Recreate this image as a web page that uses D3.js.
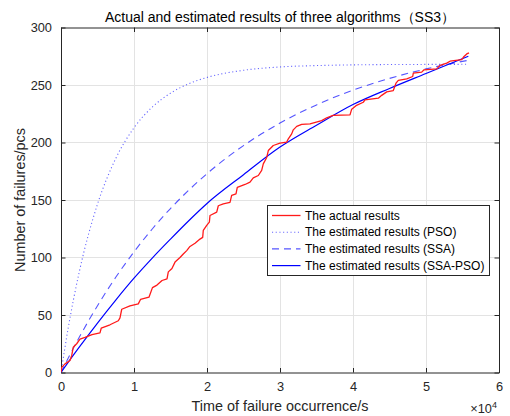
<!DOCTYPE html>
<html>
<head>
<meta charset="utf-8">
<script src="https://cdn.jsdelivr.net/npm/d3@7"></script>
<style>
  html, body { margin: 0; padding: 0; background: #fff; }
  svg { display: block; font-family: "Liberation Sans", Arial, sans-serif; }
</style>
</head>
<body>
<svg id="chart" width="510" height="416"></svg>
<script>
// Observed cumulative failures (time in seconds, count of failures)
const actualTime = [0, 100, 550, 1230, 1470, 1680, 2150, 2600, 3290, 4250, 5340, 5510, 6710, 7850, 8080,
  8320, 9450, 10590, 10890, 12050, 12530, 13150, 13840, 14520, 14700, 15200, 15620, 16300, 16750, 17220,
  17670, 18360, 19040, 19410, 19490, 19960, 20320, 20410, 21330, 21550, 22230, 23150, 23380, 23970, 24150,
  25210, 25890, 26340, 27030, 27490, 27710, 28180, 28400, 29080, 30000, 30920, 31140, 31600, 31820, 32290,
  32970, 34110, 35710, 36400, 37260, 39590, 39820, 40410, 41410, 41640, 43470, 43930, 44620, 45520, 45890,
  46210, 47360, 48180, 48260, 49410, 49730, 51470, 51920, 52840, 53290, 54890, 55210, 55580, 55890];
const actualCount = [0, 4.5, 7.5, 10.4, 14.8, 22, 25, 29, 30.5, 33, 34.5, 38.5, 41.5, 45, 47.5,
  55, 58, 59.7, 63.5, 65.5, 73.8, 76, 80, 81.5, 87.5, 90.5, 96, 100, 103, 106,
  109.6, 112.4, 116, 117.5, 123.5, 128, 130.7, 136.5, 139.4, 145, 146.7, 148, 154, 155.4, 161,
  163.5, 165.6, 169.3, 171.3, 175.7, 181.4, 187, 193, 197.4, 199.4, 200.3, 203.2, 207.5, 211, 214,
  215.7, 216.2, 219, 221.5, 223.5, 224, 229, 232, 235, 237, 238.5, 241, 244, 245.2, 251.6,
  254, 255.4, 257.4, 260.3, 261.2, 263.2, 264, 267, 269, 270.7, 272, 274.8, 277, 278];

// Estimated mean value curves, sampled at the same instants
const modelTime  = [0, 1000, 2500, 5000, 7500, 10000, 12500, 15000, 17500, 20000, 25000, 30000, 35000, 40000, 45000, 50000, 55800];
const psoValues  = [0, 39.2, 87.4, 146.4, 186.1, 212.8, 230.8, 242.9, 251.1, 256.6, 262.8, 265.7, 266.9, 267.5, 267.8, 267.9, 268];
const ssaValues  = [0, 12.7, 30.6, 58.1, 82.8, 104.9, 124.8, 142.6, 158.5, 172.9, 197.3, 216.9, 232.7, 245.5, 255.7, 264, 271.5];
const ssaPsoValues = [0, 9, 22, 43, 63, 82, 99.5, 116, 132, 147, 172, 196, 215, 233, 247, 260, 275];

const xTicks = [0, 10000, 20000, 30000, 40000, 50000, 60000];
const yTicks = [0, 50, 100, 150, 200, 250, 300];

const titleText = "Actual and estimated results of three algorithms\uFF08SS3\uFF09";
const xLabel = "Time of failure occurrence/s";
const yLabel = "Number of failures/pcs";
const legendLabels = ["The actual results", "The estimated results (PSO)", "The estimated results (SSA)", "The estimated results (SSA-PSO)"];

const svg = d3.select("#chart");
const plotLeft = 61, plotRight = 499, plotTop = 27.5, plotBottom = 372.5;
const axisColor = "#262626";

const x = d3.scaleLinear().domain([0, 60000]).range([plotLeft, plotRight]);
const y = d3.scaleLinear().domain([0, 300]).range([plotBottom, plotTop]);

// grid
const grid = svg.append("g");
grid.selectAll("line.gx").data(xTicks.slice(1, -1)).join("line")
  .attr("x1", d => x(d)).attr("x2", d => x(d)).attr("y1", plotTop).attr("y2", plotBottom)
  .attr("stroke", "#e3e3e3").attr("stroke-width", 1).attr("shape-rendering", "crispEdges");
grid.selectAll("line.gy").data(yTicks.slice(1, -1)).join("line")
  .attr("x1", plotLeft).attr("x2", plotRight).attr("y1", d => y(d)).attr("y2", d => y(d))
  .attr("stroke", "#e3e3e3").attr("stroke-width", 1).attr("shape-rendering", "crispEdges");

// axes with inward ticks on all four sides
const fmtX = d => d3.format("d")(d / 10000);
const bottomAxis = d3.axisBottom(x).tickValues(xTicks).tickFormat(fmtX).tickSizeInner(-4.5).tickSizeOuter(0).tickPadding(9);
const topAxis = d3.axisTop(x).tickValues(xTicks).tickFormat("").tickSizeInner(-4.5).tickSizeOuter(0);
const leftAxis = d3.axisLeft(y).tickValues(yTicks).tickFormat(d3.format("d")).tickSizeInner(-4.5).tickSizeOuter(0).tickPadding(9);
const rightAxis = d3.axisRight(y).tickValues(yTicks).tickFormat("").tickSizeInner(-4.5).tickSizeOuter(0);

function styleAxis(g) {
  g.select(".domain").attr("stroke", axisColor).attr("stroke-width", 1);
  g.selectAll(".tick line").attr("stroke", axisColor);
  g.selectAll(".tick text").attr("fill", axisColor).style("font-size", "12.8px")
    .style("font-family", '"Liberation Sans", Arial, sans-serif');
}
svg.append("g").attr("transform", `translate(0,${plotBottom})`).call(bottomAxis).call(styleAxis);
svg.append("g").attr("transform", `translate(0,${plotTop})`).call(topAxis).call(styleAxis);
svg.append("g").attr("transform", `translate(${plotLeft},0)`).call(leftAxis).call(styleAxis);
svg.append("g").attr("transform", `translate(${plotRight},0)`).call(rightAxis).call(styleAxis);

// clip for data lines
svg.append("clipPath").attr("id", "plotClip").append("rect")
  .attr("x", plotLeft).attr("y", plotTop).attr("width", plotRight - plotLeft).attr("height", plotBottom - plotTop);
const plot = svg.append("g").attr("clip-path", "url(#plotClip)");

const stepLine = d3.line().x(d => x(d[0])).y(d => y(d[1]));
const smoothLine = d3.line().x(d => x(d[0])).y(d => y(d[1])).curve(d3.curveMonotoneX);

const series = [
  { pts: d3.zip(actualTime, actualCount), gen: stepLine, color: "#ff1a1a", width: 1.3, dash: null, opacity: 1 },
  { pts: d3.zip(modelTime, psoValues), gen: smoothLine, color: "#3030ff", width: 1.1, dash: "1.1,2.6", opacity: 0.75 },
  { pts: d3.zip(modelTime, ssaValues), gen: smoothLine, color: "#2a2aff", width: 1.1, dash: "7,5", opacity: 0.8 },
  { pts: d3.zip(modelTime, ssaPsoValues), gen: smoothLine, color: "#0000ff", width: 1.2, dash: null, opacity: 1 }
];
// draw order: estimates first, actual on top
[series[1], series[2], series[3], series[0]].forEach(s => {
  plot.append("path").attr("d", s.gen(s.pts)).attr("fill", "none")
    .attr("stroke", s.color).attr("stroke-width", s.width).attr("stroke-opacity", s.opacity)
    .attr("stroke-dasharray", s.dash).attr("stroke-linejoin", "round");
});

// title and axis labels
svg.append("text").attr("x", (plotLeft + plotRight) / 2).attr("y", 22).attr("text-anchor", "middle")
  .attr("fill", "#000").style("font-size", "14px").text(titleText);
svg.append("text").attr("x", (plotLeft + plotRight) / 2).attr("y", 410.5).attr("text-anchor", "middle")
  .attr("fill", axisColor).style("font-size", "14.4px").text(xLabel);
svg.append("text").attr("transform", `translate(25,${(plotTop + plotBottom) / 2}) rotate(-90)`).attr("text-anchor", "middle")
  .attr("fill", axisColor).style("font-size", "14.4px").text(yLabel);

// exponent marker for the x axis
const expo = svg.append("text").attr("x", 497).attr("y", 413).attr("text-anchor", "end")
  .attr("fill", axisColor).style("font-size", "12.8px");
expo.append("tspan").text("\u00D710");
expo.append("tspan").attr("dy", -5).style("font-size", "9px").text("4");

// legend
const lg = svg.append("g");
const lgX = 267.5, lgY = 205.5, lgW = 222, lgH = 70;
lg.append("rect").attr("x", lgX).attr("y", lgY).attr("width", lgW).attr("height", lgH)
  .attr("fill", "#fff").attr("stroke", axisColor).attr("stroke-width", 1);
legendLabels.forEach((lab, i) => {
  const s = series[i];
  const cy = lgY + 10 + i * 16.7;
  lg.append("line").attr("x1", lgX + 4.5).attr("x2", lgX + 33).attr("y1", cy).attr("y2", cy)
    .attr("stroke", s.color).attr("stroke-width", s.width).attr("stroke-opacity", s.opacity)
    .attr("stroke-dasharray", s.dash);
  lg.append("text").attr("x", lgX + 37.5).attr("y", cy + 4.2).attr("fill", "#000")
    .style("font-size", "12px").text(lab);
});
</script>
</body>
</html>
